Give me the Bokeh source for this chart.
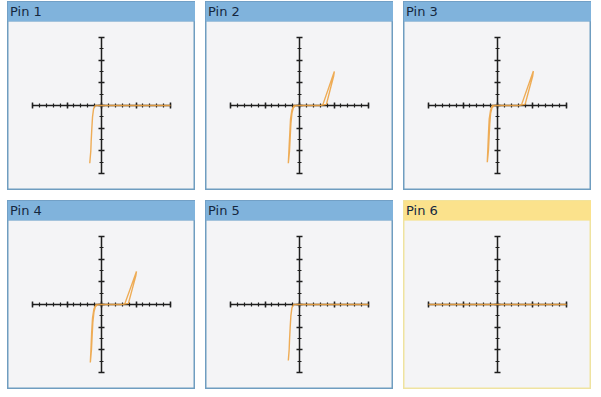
from bokeh.plotting import figure
from bokeh.models import FixedTicker, BoxAnnotation, Label, Range1d
from bokeh.layouts import row, column
from bokeh.embed import file_html
from bokeh.resources import INLINE

# ---------------- data ----------------
pin_names = ["Pin 1", "Pin 2", "Pin 3", "Pin 4", "Pin 5", "Pin 6"]
selected_pin = "Pin 6"

x_major = [-10, -5, 0, 5, 10]
x_minor = list(range(-10, 11))
y_major = [-3, -2, -1, 0, 1, 2, 3]
y_minor = [-3, -2.5, -2, -1.5, -1, -0.5, 0, 0.5, 1, 1.5, 2, 2.5, 3]

pin1_v = [10.0, 0.0, -0.9, -1.15, -1.3, -1.4, -1.5, -1.55, -1.7]
pin1_i = [0.0, 0.0, 0.0, -0.15, -0.5, -1.0, -1.6, -2.0, -2.55]

pin2_v = [0.0, 3.1, 3.4, 5.05, 4.95, 3.9, 3.0, 0.0, -0.8, -1.1, -1.3, -1.4,
          -1.5, -1.62, -1.45, -1.35, -1.25, -1.1, -0.9, -0.5, 0.0]
pin2_i = [0.0, 0.0, 0.05, 1.5, 1.3, 0.05, 0.0, 0.0, 0.0, -0.2, -0.6, -1.2,
          -1.8, -2.55, -2.0, -1.4, -0.8, -0.35, -0.1, 0.0, 0.0]

pin3_v = [0.0, 3.2, 3.5, 5.2, 5.1, 4.0, 3.1, 0.0, -0.75, -1.0, -1.2, -1.3,
          -1.38, -1.48, -1.32, -1.22, -1.12, -1.0, -0.8, -0.45, 0.0]
pin3_i = [0.0, 0.0, 0.05, 1.52, 1.3, 0.05, 0.0, 0.0, 0.0, -0.2, -0.6, -1.2,
          -1.8, -2.5, -2.0, -1.4, -0.8, -0.35, -0.1, 0.0, 0.0]

pin4_v = [0.0, 3.1, 3.4, 5.07, 4.97, 3.9, 3.0, 0.0, -0.8, -1.1, -1.3, -1.42,
          -1.5, -1.62, -1.46, -1.36, -1.26, -1.1, -0.9, -0.5, 0.0]
pin4_i = [0.0, 0.0, 0.05, 1.46, 1.26, 0.05, 0.0, 0.0, 0.0, -0.2, -0.6, -1.2,
          -1.8, -2.56, -2.0, -1.4, -0.8, -0.35, -0.1, 0.0, 0.0]

pin5_v = [10.0, 0.0, -0.85, -1.1, -1.25, -1.35, -1.45, -1.5, -1.62]
pin5_i = [0.0, 0.0, 0.0, -0.15, -0.5, -1.0, -1.6, -2.0, -2.47]

pin6_v = [-10.0, 10.0]
pin6_i = [0.0, 0.0]

traces_v = [pin1_v, pin2_v, pin3_v, pin4_v, pin5_v, pin6_v]
traces_i = [pin1_i, pin2_i, pin3_i, pin4_i, pin5_i, pin6_i]

# ---------------- style / layout ----------------
W, H = 188, 189
HEADER = 20
PX_X = 6.9      # px per x unit
PX_Y = 22.67    # px per y unit
CX, CY = 94, 104  # origin position inside a panel (px from left / top)

x0 = -CX / PX_X
x1 = (W - CX) / PX_X
y1 = CY / PX_Y
y0 = -(H - CY) / PX_Y
header_bottom = y1 - HEADER / PX_Y

BG = "#f4f4f6"
BLUE_HEAD = "#80b3dc"
BLUE_EDGE = "#6f9dc0"
YEL_HEAD = "#fbe28c"
YEL_EDGE = "#efe3a0"
TRACE = "#eda445"
AXIS = "#1e1e1e"


def make_panel(name, xs, ys):
    sel = name == selected_pin
    head = YEL_HEAD if sel else BLUE_HEAD
    edge = YEL_EDGE if sel else BLUE_EDGE
    p = figure(width=W, height=H, x_range=Range1d(x0, x1), y_range=Range1d(y0, y1),
               output_backend="svg", toolbar_location=None, min_border=0,
               background_fill_color=BG, border_fill_color=BG,
               outline_line_color=edge, outline_line_width=2)
    p.grid.visible = False

    for ax, bounds, maj, mnr in ((p.xaxis, (-10, 10), x_major, x_minor),
                                 (p.yaxis, (-3, 3), y_major, y_minor)):
        ax.fixed_location = 0
        ax.bounds = bounds
        ax.ticker = FixedTicker(ticks=maj, minor_ticks=mnr)
        ax.major_label_text_font_size = "0px"
        ax.major_label_overrides = {t: "" for t in maj}
        ax.axis_line_color = AXIS
        ax.axis_line_width = 1.5
        ax.major_tick_line_color = AXIS
        ax.major_tick_line_width = 1.5
        ax.minor_tick_line_color = AXIS
        ax.minor_tick_line_width = 1.2
        ax.major_tick_in = 3
        ax.major_tick_out = 3
        ax.minor_tick_in = 2
        ax.minor_tick_out = 2

    r = p.line(xs, ys, line_color=TRACE, line_width=1.4, line_alpha=0.9)
    r.level = "overlay"

    p.add_layout(BoxAnnotation(bottom=header_bottom, fill_color=head, fill_alpha=1.0,
                               line_color=edge, line_width=1))
    p.add_layout(Label(x=x0 + 2.5 / PX_X, y=(header_bottom + y1) / 2, text=name,
                       text_baseline="middle", text_font="DejaVu Sans",
                       text_font_size="13px", text_color="#15283f"))
    return p


panels = [make_panel(n, xs, ys) for n, xs, ys in zip(pin_names, traces_v, traces_i)]
layout = column(row(panels[0], panels[1], panels[2], spacing=10),
                row(panels[3], panels[4], panels[5], spacing=10),
                spacing=10, margin=(1, 0, 0, 7))

open("out.html", "w").write(file_html(layout, INLINE))
